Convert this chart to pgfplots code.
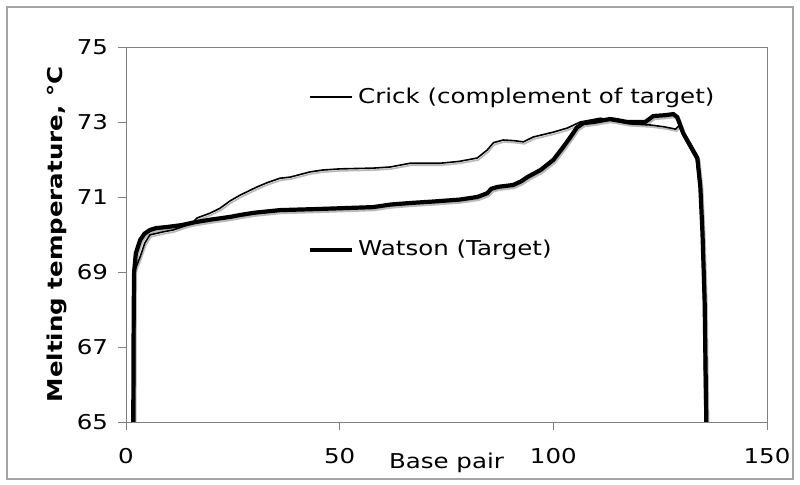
\documentclass[border=0pt]{standalone}
\usepackage{pgfplots}
\pgfplotsset{compat=1.18}
\usepackage{fontspec}
\setmainfont[FakeStretch=1.2]{DejaVu Sans}
\definecolor{framegray}{RGB}{165,165,165}
\definecolor{axgray}{RGB}{128,128,128}
\definecolor{shadow}{RGB}{185,185,185}
\pgfplotstableread{
x y
1.7 65
1.8 68.0
1.9 69.0
2.3 69.5
3.3 69.85
4.3 70.02
5.6 70.12
7 70.17
9.6 70.2
13 70.25
16.2 70.33
20 70.4
24.4 70.47
26.7 70.52
30 70.58
36 70.65
45 70.68
57.8 70.73
62 70.8
66.5 70.84
72 70.88
78 70.93
82.2 71.0
84.5 71.1
85.5 71.22
87 71.27
90.6 71.32
92.5 71.42
93.9 71.53
97 71.72
100 71.99
102.3 72.33
104 72.6
105.5 72.85
107 72.97
109.4 73.0
113.3 73.08
115 73.05
117.3 73.0
121.5 73.0
123.4 73.16
126 73.18
128.1 73.21
129 73.13
130.4 72.7
133.7 72.04
134.4 71.27
134.9 70.04
135.4 68.25
135.8 65
}\watson
\pgfplotstableread{
x y
2.0 65
2.05 68.5
2.1 69.05
3.3 69.4
4.4 69.77
5.6 69.99
8.7 70.07
11 70.12
14.3 70.25
15.5 70.3
16.6 70.44
19.7 70.57
22 70.7
24.4 70.9
26.7 71.05
30.7 71.27
33 71.38
36 71.5
38.4 71.53
43.1 71.67
46.1 71.72
50.1 71.75
57.8 71.77
61.8 71.8
66.5 71.9
73.5 71.9
78 71.95
82.2 72.04
84.5 72.25
86 72.45
88.3 72.52
91 72.5
93 72.47
95.3 72.6
100 72.73
103.3 72.84
106.3 73.0
111 73.1
114 73.03
118 72.95
122.7 72.92
126 72.87
128.6 72.81
129.4 72.9
130.6 72.6
133.5 72.0
134.3 71.2
134.8 70.0
135.2 68.2
135.5 65
}\crick
\begin{document}
\fontsize{20.5}{24}\selectfont
\begin{tikzpicture}
\path[use as bounding box] (0,0) rectangle (800bp,485bp);
\draw[framegray, line width=1.2bp] (7bp,6bp) rectangle (793bp,478bp);
\begin{axis}[
  at={(126bp,63bp)}, anchor=south west,
  scale only axis, width=641bp, height=375bp,
  xmin=0, xmax=150, ymin=65, ymax=75,
  xtick={0,50,100,150}, ytick={65,67,69,71,73,75},
  axis line style={draw=axgray, line width=0.9bp},
  tick style={axgray, line width=0.9bp},
  tick align=outside, major tick length=8bp,
  xtick pos=bottom, ytick pos=left,
  /pgf/number format/assume math mode=true,
  ticklabel style={font=\fontsize{20.5}{24}\selectfont},
  xticklabel style={yshift=-11bp},
  yticklabel style={xshift=-3bp},
  xlabel={Base pair},
  ylabel={\bfseries Melting temperature, °C},
  label style={font=\fontsize{20.5}{24}\selectfont},
  xlabel style={at={(axis description cs:0.5,-0.109)}, anchor=center},
  ylabel style={at={(axis description cs:-0.108,0.5)}, anchor=center},
]
\addplot[shadow, line width=1.6bp, xshift=1bp, yshift=-2bp] table {\crick};
\addplot[shadow, line width=4.2bp, xshift=1bp, yshift=-2bp] table {\watson};
\addplot[black, line width=1.6bp] table {\crick};
\addplot[black, line width=4.2bp] table {\watson};
\draw[black, line width=1.6bp] (axis cs:43.06,73.67) -- (axis cs:52.9,73.67);
\node[anchor=west, inner sep=0pt, font=\fontsize{20.5}{24}\selectfont] at (axis cs:54.3,73.64) {Crick (complement of target)};
\draw[black, line width=4.2bp] (axis cs:43.06,69.59) -- (axis cs:52.9,69.59);
\node[anchor=west, inner sep=0pt, font=\fontsize{20.5}{24}\selectfont] at (axis cs:54.3,69.59) {Watson (Target)};
\end{axis}
\end{tikzpicture}
\end{document}
